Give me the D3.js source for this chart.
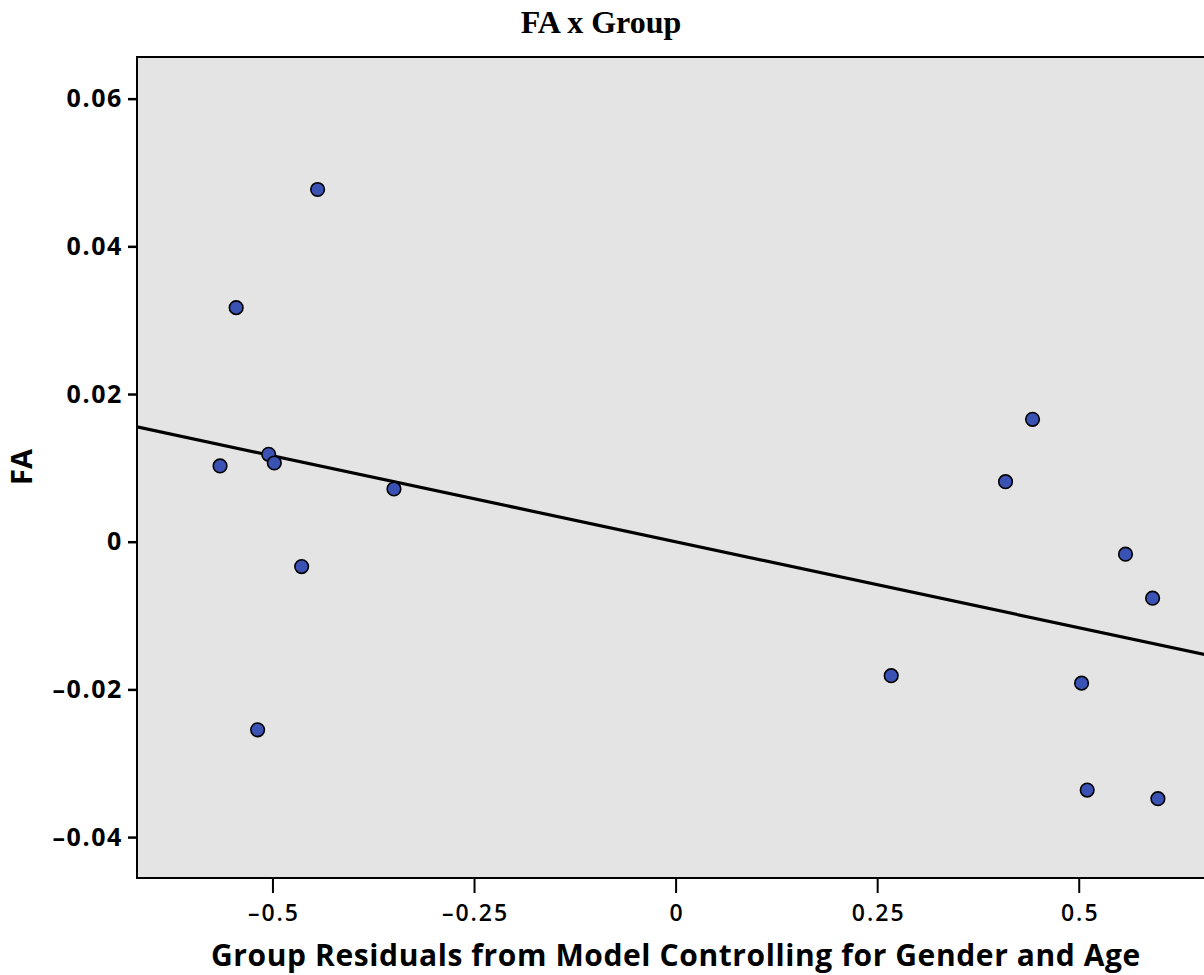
<!DOCTYPE html>
<html>
<head>
<meta charset="utf-8">
<script src="https://cdn.jsdelivr.net/npm/d3@7"></script>
<style>
  body { margin: 0; background: #fff; }
  svg { display: block; }
</style>
</head>
<body>
<svg id="chart"></svg>
<script>
// residual values
const groupResid = [-0.444, -0.545, -0.565, -0.5047, -0.4977, -0.3493, -0.4638, -0.5184,
                    0.4427, 0.4092, 0.558, 0.5916, 0.5035, 0.5105, 0.5982, 0.2674];
const faValues = [0.0477, 0.0317, 0.01026, 0.01184, 0.01066, 0.00714, -0.00337, -0.02547,
                  0.01658, 0.00813, -0.00169, -0.00765, -0.01915, -0.03363, -0.0348, -0.01814];
const xTicks = [-0.5, -0.25, 0, 0.25, 0.5];
const yTicks = [-0.04, -0.02, 0, 0.02, 0.04, 0.06];

const width = 1204, height = 975;
const plotL = 137, plotT = 57, plotR = 1215, plotB = 878;

const svg = d3.select("#chart")
    .attr("width", width)
    .attr("height", height);

const x = d3.scaleLinear().domain([-0.668, 0.669]).range([plotL, plotR]);
const y = d3.scaleLinear().domain([-0.04554, 0.06564]).range([plotB, plotT]);

const fmt = d => d === 0 ? "0" : String(d).replace("-", "\u2013");

// plot background
svg.append("rect")
    .attr("x", plotL).attr("y", plotT)
    .attr("width", plotR - plotL).attr("height", plotB - plotT)
    .attr("fill", "#e4e4e4")
    .attr("stroke", "#000")
    .attr("stroke-width", 2);

// axes
const xAxis = svg.append("g")
    .attr("transform", `translate(0,${plotB})`)
    .call(d3.axisBottom(x).tickValues(xTicks).tickFormat(fmt).tickSize(15).tickSizeOuter(0));
xAxis.select(".domain").remove();
xAxis.selectAll("line").attr("stroke", "#000").attr("stroke-width", 2);
xAxis.selectAll("text")
    .attr("dy", "1.1em")
    .attr("dx", 1)
    .attr("font-family", "'Open Sans', sans-serif")
    .attr("font-weight", 600)
    .attr("font-size", 23)
    .attr("letter-spacing", 2)
    .attr("fill", "#000");

const yAxis = svg.append("g")
    .attr("transform", `translate(${plotL},0)`)
    .call(d3.axisLeft(y).tickValues(yTicks).tickFormat(fmt).tickSize(9).tickSizeOuter(0));
yAxis.select(".domain").remove();
yAxis.selectAll("line").attr("stroke", "#000").attr("stroke-width", 2.5);
yAxis.selectAll("text")
    .attr("x", -14)
    .attr("font-family", "'Open Sans', sans-serif")
    .attr("font-weight", 700)
    .attr("font-size", 25)
    .attr("letter-spacing", 1.6)
    .attr("fill", "#000");

// least squares fit line
const mx = d3.mean(groupResid), my = d3.mean(faValues);
const sxy = d3.sum(groupResid, (v, i) => (v - mx) * (faValues[i] - my));
const sxx = d3.sum(groupResid, v => (v - mx) * (v - mx));
const slope = sxy / sxx, intercept = my - slope * mx;
const xd = x.domain();

svg.append("defs").append("clipPath").attr("id", "clip")
  .append("rect")
    .attr("x", plotL).attr("y", plotT)
    .attr("width", plotR - plotL).attr("height", plotB - plotT);

svg.append("line")
    .attr("clip-path", "url(#clip)")
    .attr("x1", x(xd[0])).attr("y1", y(intercept + slope * xd[0]))
    .attr("x2", x(xd[1])).attr("y2", y(intercept + slope * xd[1]))
    .attr("stroke", "#000")
    .attr("stroke-width", 3.2);

// points
svg.append("g")
  .selectAll("circle")
  .data(groupResid.map((v, i) => [v, faValues[i]]))
  .join("circle")
    .attr("cx", d => x(d[0]))
    .attr("cy", d => y(d[1]))
    .attr("r", 6.8)
    .attr("fill", "#3a52b4")
    .attr("stroke", "#000")
    .attr("stroke-width", 1.6);

// titles
svg.append("text")
    .attr("x", 601).attr("y", 33)
    .attr("text-anchor", "middle")
    .attr("font-family", "'Liberation Serif', 'Times New Roman', serif")
    .attr("font-weight", 700)
    .attr("font-size", 32)
    .text("FA x Group");

svg.append("text")
    .attr("x", 676).attr("y", 966)
    .attr("text-anchor", "middle")
    .attr("font-family", "'Open Sans', sans-serif")
    .attr("font-weight", 700)
    .attr("font-size", 30)
    .attr("letter-spacing", 0.6)
    .text("Group Residuals from Model Controlling for Gender and Age");

svg.append("text")
    .attr("transform", "translate(32,467) rotate(-90)")
    .attr("text-anchor", "middle")
    .attr("font-family", "'Open Sans', sans-serif")
    .attr("font-weight", 700)
    .attr("font-size", 29)
    .text("FA");
</script>
</body>
</html>
